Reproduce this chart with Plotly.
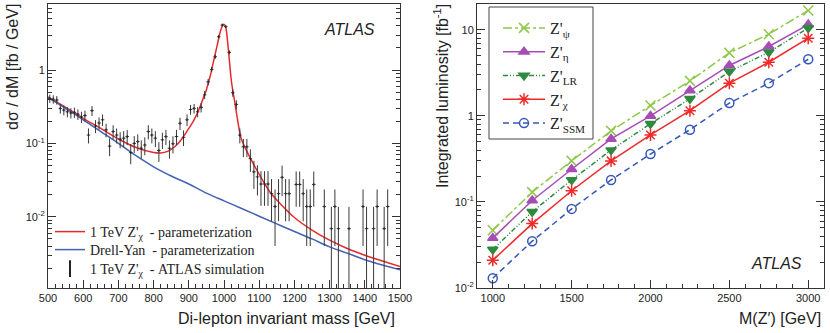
import plotly.graph_objects as go

# ---------------- left panel: 1 TeV Z'chi lineshape ----------------
# simulated points (bin centres, dsigma/dM, stat. error)
mass_pts = list(range(505, 1136, 10)) + [
    1145, 1155, 1165, 1175, 1185, 1205, 1215, 1225, 1235, 1245, 1255,
    1285, 1305, 1315, 1325, 1355, 1395, 1405, 1425, 1435, 1455, 1465]
xsec_pts = [
    0.41, 0.40, 0.39, 0.30, 0.285, 0.27, 0.26, 0.265, 0.25, 0.23,
    0.24, 0.13, 0.28, 0.173, 0.19, 0.21, 0.153, 0.092, 0.145, 0.13,
    0.114, 0.118, 0.124, 0.075, 0.10, 0.106, 0.086, 0.095, 0.145, 0.13,
    0.118, 0.08, 0.112, 0.124, 0.086, 0.099, 0.124, 0.188, 0.121, 0.21,
    0.29, 0.30, 0.27, 0.31, 0.46, 0.69, 1.02, 1.52, 2.84, 4.1,
    3.9, 1.74, 0.49, 0.34, 0.13, 0.09, 0.09, 0.062, 0.041, 0.035,
    0.028, 0.028, 0.028, 0.0207,
    0.0138, 0.0207, 0.0345, 0.0207, 0.0207, 0.0276, 0.0276, 0.0207, 0.0138, 0.0138, 0.0276,
    0.0138, 0.0069, 0.0138, 0.0069, 0.0069, 0.0138, 0.0069, 0.0069, 0.0138, 0.0069, 0.0138]
err_pts = [
    0.053, 0.052, 0.052, 0.045, 0.044, 0.043, 0.042, 0.043, 0.041, 0.040,
    0.041, 0.030, 0.044, 0.035, 0.036, 0.038, 0.032, 0.025, 0.032, 0.030,
    0.028, 0.029, 0.029, 0.023, 0.026, 0.027, 0.024, 0.026, 0.032, 0.030,
    0.029, 0.024, 0.028, 0.029, 0.024, 0.026, 0.029, 0.036, 0.029, 0.038,
    0.045, 0.045, 0.043, 0.046, 0.056, 0.069, 0.084, 0.102, 0.140, 0.168,
    0.164, 0.109, 0.058, 0.048, 0.030, 0.025, 0.025, 0.021, 0.017, 0.0155,
    0.0139, 0.0139, 0.0139, 0.012,
    0.0098, 0.012, 0.0154, 0.012, 0.012, 0.0139, 0.0139, 0.012, 0.0098, 0.0098, 0.0139,
    0.0098, 0.0068, 0.0098, 0.0068, 0.0068, 0.0098, 0.0068, 0.0068, 0.0098, 0.0068, 0.0098]

# parameterisations
mass_sig = [500, 550, 600, 650, 700, 750, 800, 820, 840, 860, 880, 900, 915, 930,
            940, 950, 960, 970, 980, 990, 995, 1000, 1005, 1010, 1015, 1020, 1025,
            1030, 1035, 1040, 1045, 1050, 1070, 1100, 1130, 1150, 1200, 1250,
            1300, 1350, 1400, 1450, 1500]
xsec_sig = [0.43, 0.31, 0.22, 0.16, 0.115, 0.088, 0.075, 0.074, 0.078, 0.090, 0.115,
            0.16, 0.21, 0.30, 0.40, 0.54, 0.80, 1.3, 2.1, 3.4, 3.95, 4.2, 3.8, 2.5,
            1.4, 0.78, 0.52, 0.38, 0.27, 0.19, 0.14, 0.112, 0.070, 0.038, 0.022,
            0.017, 0.0098, 0.0066, 0.0048, 0.0037, 0.0030, 0.0025, 0.0021]
mass_dy = [500, 550, 600, 650, 700, 750, 800, 850, 900, 950, 1000, 1050, 1100,
           1150, 1200, 1250, 1300, 1350, 1400, 1450, 1500]
xsec_dy = [0.42, 0.30, 0.21, 0.145, 0.10, 0.068, 0.048, 0.036, 0.028, 0.021, 0.0165,
           0.013, 0.0102, 0.0080, 0.0063, 0.0050, 0.0039, 0.0032, 0.0026, 0.0022, 0.0019]

# ---------------- right panel: discovery luminosity ----------------
mass_z = [1000, 1250, 1500, 1750, 2000, 2250, 2500, 2750, 3000]
lumi_psi = [0.047, 0.13, 0.30, 0.67, 1.32, 2.55, 5.4, 8.9, 16.8]
lumi_eta = [0.038, 0.104, 0.24, 0.54, 1.0, 1.97, 3.85, 6.4, 11.5]
lumi_lr = [0.028, 0.077, 0.18, 0.40, 0.81, 1.58, 3.27, 5.5, 10.5]
lumi_chi = [0.021, 0.056, 0.135, 0.30, 0.60, 1.15, 2.4, 4.2, 8.0]
lumi_ssm = [0.013, 0.035, 0.083, 0.18, 0.36, 0.69, 1.41, 2.4, 4.55]

W, H = 830, 333
SANS = "Liberation Sans"
SERIF = "Liberation Serif"
INK = "#222222"

def px(x):
    return x / W

def py(y):
    return 1 - y / H

fig = go.Figure()

fig.add_trace(go.Scatter(
    x=mass_sig, y=xsec_sig, mode="lines", line=dict(color="#e8292b", width=1.5, shape="spline"),
    name="1 TeV Z'<sub>χ</sub>\u00a0\u00a0- parameterization", legend="legend",
    xaxis="x", yaxis="y"))
fig.add_trace(go.Scatter(
    x=mass_dy, y=xsec_dy, mode="lines", line=dict(color="#4262b3", width=1.5, shape="spline"),
    name="Drell-Yan\u00a0\u00a0- parameterization", legend="legend3",
    xaxis="x", yaxis="y"))
fig.add_trace(go.Scatter(
    x=mass_pts, y=xsec_pts, mode="markers",
    marker=dict(symbol="line-ns", size=2, line=dict(color=INK, width=1)),
    error_y=dict(type="data", array=err_pts, color="#3a3a3a", thickness=1, width=0),
    error_x=dict(type="constant", value=5, color="#3a3a3a", thickness=1, width=0),
    name="1 TeV Z'<sub>χ</sub>\u00a0\u00a0- ATLAS simulation", legend="legend4",
    xaxis="x", yaxis="y"))

series = [
    ("Z'<sub>ψ</sub>", lumi_psi, "#8fc74a", "dashdot", "x-thin-open", 10),
    ("Z'<sub>η</sub>", lumi_eta, "#a64db5", "solid", "triangle-up", 9),
    ("Z'<sub>LR</sub>", lumi_lr, "#2d8a3e", "5px,2px,1px,2px,1px,2px", "triangle-down", 9),
    ("Z'<sub>χ</sub>", lumi_chi, "#ee2a2a", "solid", "asterisk-open", 10),
    ("Z'<sub>SSM</sub>", lumi_ssm, "#3558b8", "6px,4px", "circle-open", 9),
]
for i, (name, vals, col, dash, sym, size) in enumerate(series):
    fig.add_trace(go.Scatter(
        x=mass_z, y=vals, mode="lines+markers", name=name,
        line=dict(color=col, width=1.5, dash=dash),
        marker=dict(symbol=sym, size=size, color=col, line=dict(color=col, width=1.5)),
        legend="legend2", xaxis="x2", yaxis="y2"))

axis_common = dict(
    showline=True, linecolor="#333333", linewidth=1, ticks="inside", tickcolor="#333333",
    showgrid=False, zeroline=False, automargin=False,
    tickfont=dict(family=SANS, size=11, color=INK),
)
minor_tick = dict(ticks="inside", ticklen=4, tickcolor="#333333", showgrid=False)

left_leg = dict(xanchor="left", yanchor="top", bgcolor="rgba(0,0,0,0)", borderwidth=0,
                font=dict(family=SERIF, size=14, color=INK))

fig.update_layout(
    width=W, height=H, margin=dict(l=0, r=0, t=0, b=0, pad=0, autoexpand=False),
    paper_bgcolor="white", plot_bgcolor="white", showlegend=True,
    xaxis=dict(domain=[px(48), px(400)], range=[500, 1500], dtick=100, ticklen=8,
               mirror=True, minor=dict(dtick=20, **minor_tick),
               anchor="y", **axis_common),
    yaxis=dict(domain=[py(288), py(4)], type="log", range=[-2.97, 0.9],
               tickvals=[0.01, 0.1, 1], ticktext=["10<sup>-2</sup>", "10<sup>-1</sup>", "1"],
               ticklen=8, mirror="ticks", anchor="x",
               minor=dict(dtick="D1", **minor_tick), **axis_common),
    xaxis2=dict(domain=[px(477), px(824)], range=[900, 3100],
                tickvals=[1000, 1500, 2000, 2500, 3000], ticklen=8, mirror=True, anchor="y2",
                minor=dict(dtick=100, tick0=0, **minor_tick), **axis_common),
    yaxis2=dict(domain=[py(288), py(4)], type="log", range=[-2, 1.3],
                tickvals=[0.01, 0.1, 1, 10],
                ticktext=["10<sup>-2</sup>", "10<sup>-1</sup>", "1", "10"],
                ticklen=8, mirror="ticks", anchor="x2",
                minor=dict(dtick="D1", **minor_tick), **axis_common),
    legend=dict(x=px(50), y=py(216), **left_leg),
    legend3=dict(x=px(50), y=py(234), **left_leg),
    legend4=dict(x=px(50), y=py(253), itemsizing="constant", **left_leg),
    legend2=dict(x=px(498), y=py(11), xanchor="left", yanchor="top",
                 bgcolor="rgba(0,0,0,0)", borderwidth=0, itemwidth=42,
                 font=dict(family=SERIF, size=16, color=INK)),
)

# frame of the right-hand legend
fig.add_shape(type="rect", xref="paper", yref="paper",
              x0=px(489), x1=px(593), y0=py(139), y1=py(7),
              line=dict(color="#444444", width=1), fillcolor="white", layer="above")

title_font = dict(family=SANS, size=16, color=INK)
fig.add_annotation(text="Di-lepton invariant mass [GeV]", x=px(397), y=py(318),
                   xref="paper", yref="paper", xanchor="right", yanchor="middle",
                   showarrow=False, font=title_font)
fig.add_annotation(text="M(Z′) [GeV]", x=px(823), y=py(318),
                   xref="paper", yref="paper", xanchor="right", yanchor="middle",
                   showarrow=False, font=title_font)
fig.add_annotation(text="dσ / dM [fb / GeV]", x=px(13), y=py(2), textangle=-90,
                   xref="paper", yref="paper", xanchor="center", yanchor="top",
                   showarrow=False, font=title_font)
fig.add_annotation(text="Integrated luminosity [fb<sup>-1</sup>]", x=px(441), y=py(2),
                   textangle=-90, xref="paper", yref="paper", xanchor="center", yanchor="top",
                   showarrow=False, font=title_font)
atlas_font = dict(family=SANS, size=16, color=INK)
fig.add_annotation(text="<i>ATLAS</i>", x=px(349), y=py(30), xref="paper", yref="paper",
                   xanchor="center", yanchor="middle", showarrow=False, font=atlas_font)
fig.add_annotation(text="<i>ATLAS</i>", x=px(776), y=py(263), xref="paper", yref="paper",
                   xanchor="center", yanchor="middle", showarrow=False, font=atlas_font)

# the page is photographed from its top-left corner: drop the default body margin
fig.write_html("out.html", config={"displayModeBar": False},
               post_script="document.body.style.margin = '0';")
